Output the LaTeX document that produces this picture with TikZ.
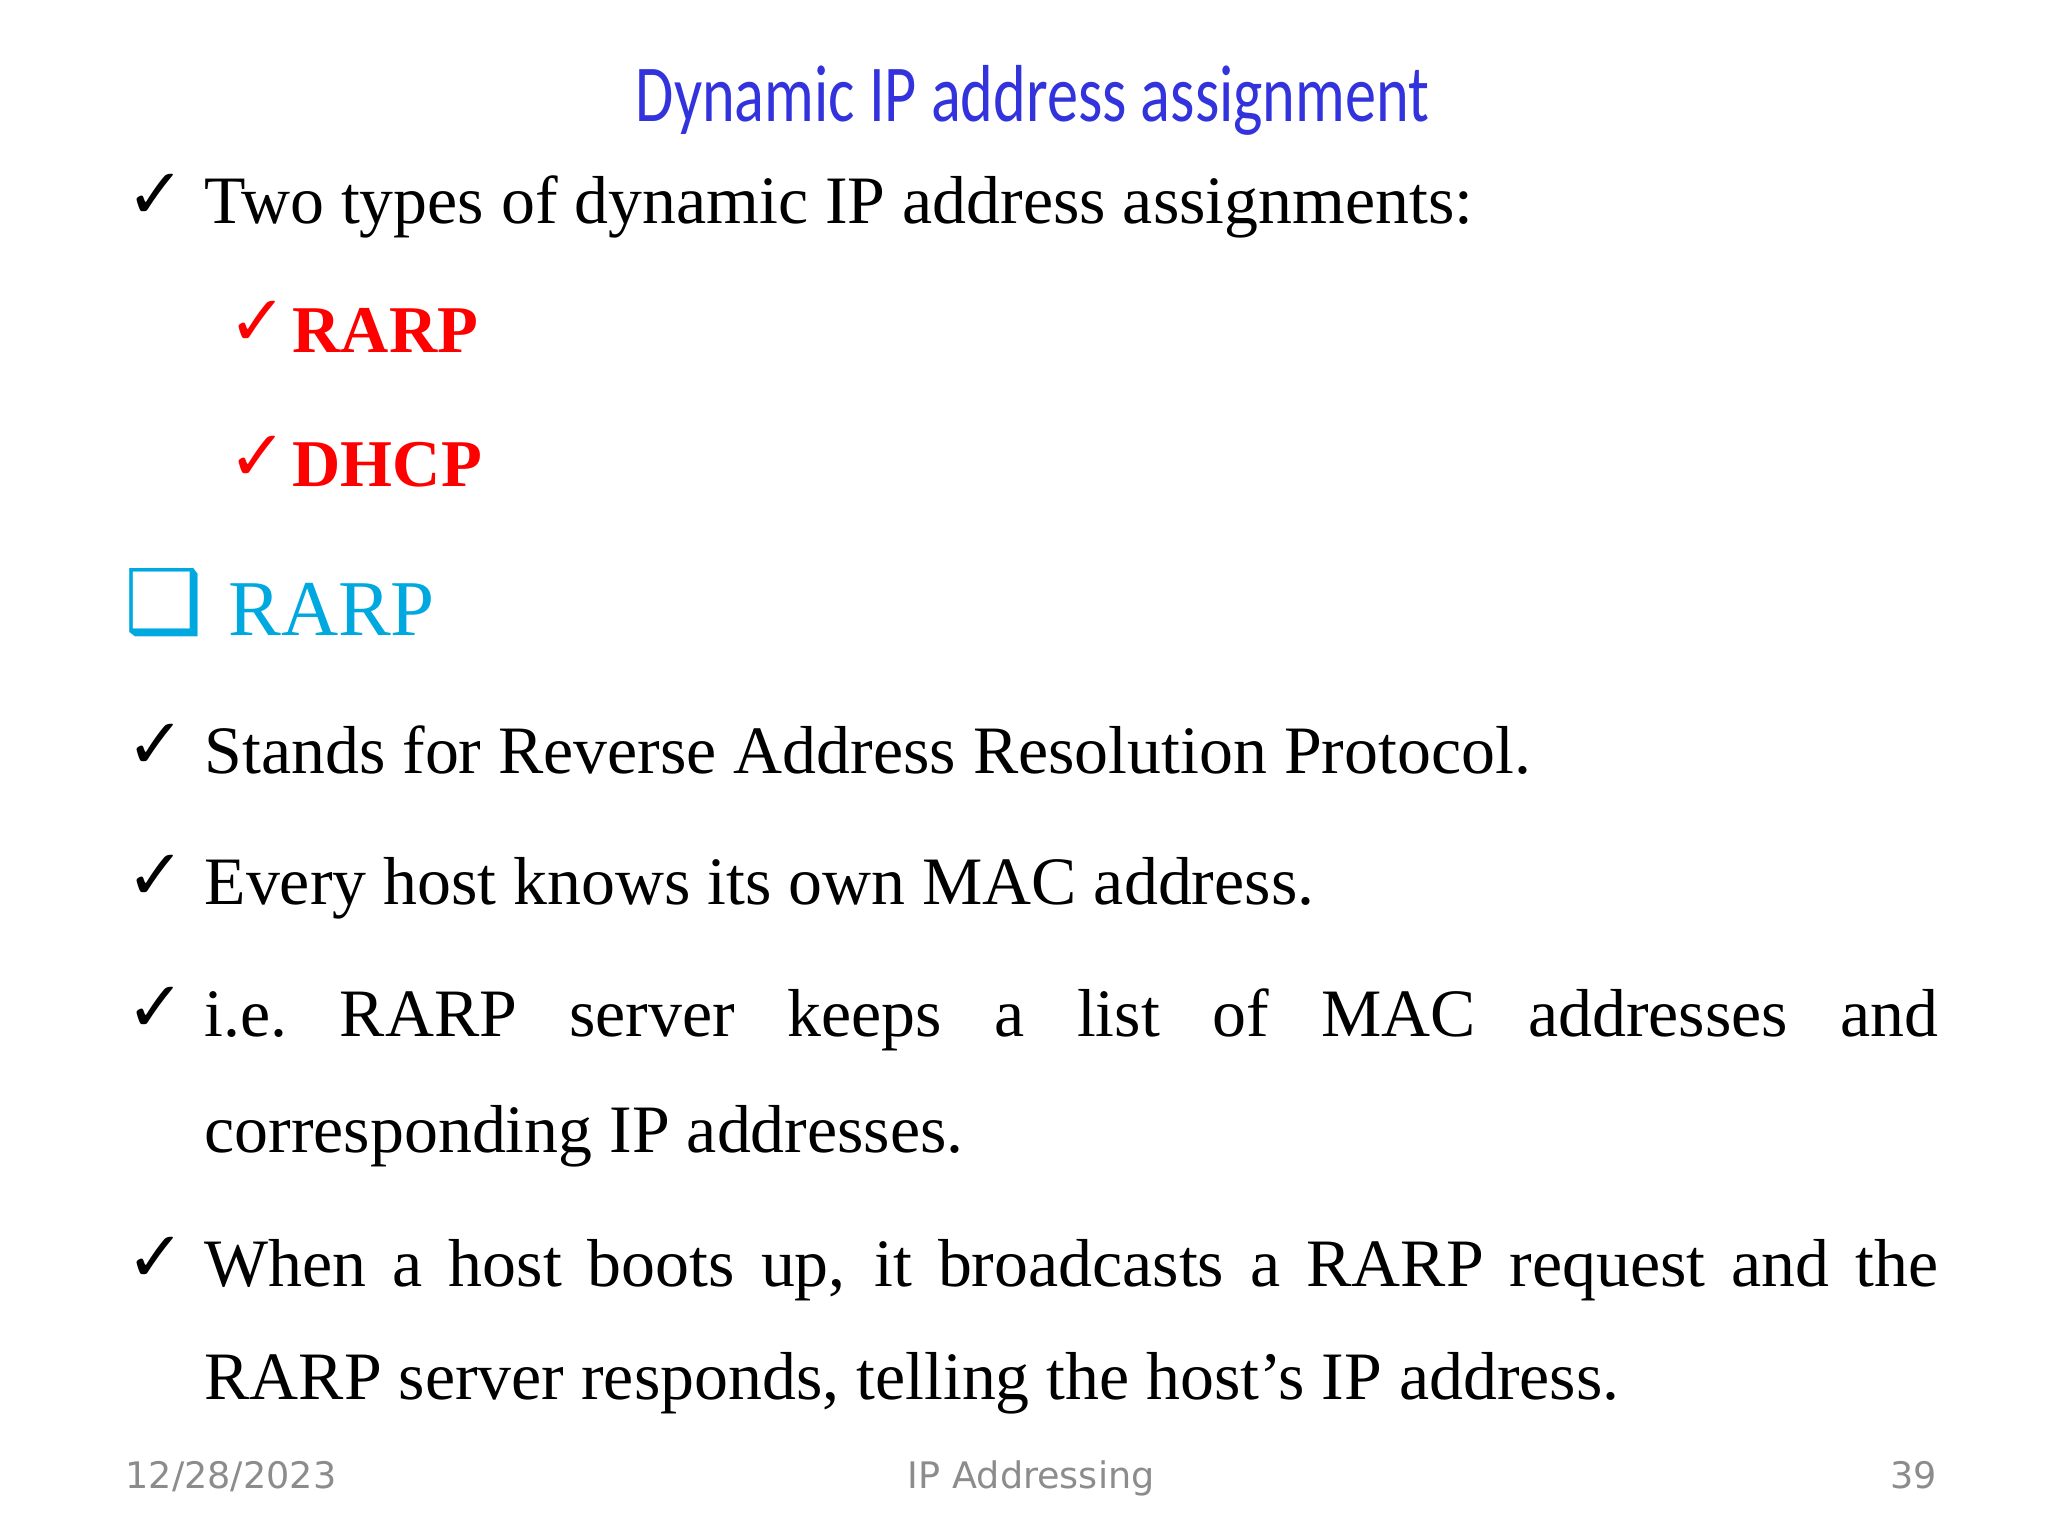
\documentclass[tikz,border=0pt]{standalone}
\usepackage{fontspec}
\setmainfont{Liberation Serif}
\newfontfamily\titlefont{Carlito}
\newfontfamily\symfont{DejaVu Sans}
\newfontfamily\footfont{DejaVu Sans}
\definecolor{titleblue}{HTML}{3333DD}
\definecolor{redtxt}{HTML}{FF0000}
\definecolor{cyantxt}{HTML}{00A8E0}
\definecolor{footgray}{HTML}{8C8C8C}
\tikzset{
  body/.style={anchor=base west,inner sep=0pt,font=\fontsize{19.3}{23}\selectfont},
  chk/.style={anchor=base west,inner sep=0pt,font=\symfont\bfseries\fontsize{20}{24}\selectfont},
  redchk/.style={chk,text=redtxt},
  redtext/.style={anchor=base west,inner sep=0pt,text=redtxt,font=\fontsize{19}{23}\selectfont\bfseries},
  foot/.style={inner sep=0pt,anchor=base,text=footgray,font=\footfont\fontsize{10.4}{13}\selectfont}
}
\newcommand{\ck}{\symbol{"2713}}
\begin{document}
\begin{tikzpicture}[x=0.013154cm,y=-0.013154cm]
\useasboundingbox (0,0) rectangle (1557,1170);
\node[anchor=base,inner sep=0pt,text=titleblue,font=\titlefont\fontsize{23}{27}\selectfont] (title) at (785,92) {\scalebox{0.77}[1]{Dynamic IP address assignment}};
\node[chk] (c1) at (96,166) {\ck};
\node[body] (t1) at (155,170) {Two types of dynamic IP address assignments:};
\node[redchk] (c2) at (173,263) {\ck};
\node[redtext] (t2) at (222,268) {RARP};
\node[redchk] (c3) at (173,365) {\ck};
\node[redtext] (t3) at (222,370) {DHCP};
\node[anchor=base west,inner sep=0pt,text=cyantxt,font=\symfont\bfseries\fontsize{25}{28}\selectfont] (box) at (94,481) {\symbol{"2751}};
\node[anchor=base west,inner sep=0pt,text=cyantxt,font=\fontsize{22.5}{27}\selectfont] (h) at (173,483) {RARP};
\node[chk] (c4) at (96,584) {\ck};
\node[body] (t4) at (155,588) {Stands for Reverse Address Resolution Protocol.};
\node[chk] (c5) at (96,684) {\ck};
\node[body] (t5) at (155,688) {Every host knows its own MAC address.};
\node[chk] (c6) at (96,784) {\ck};
\node[body] (t6) at (155,788) {\makebox[17.34cm][s]{i.e.\ RARP server keeps a list of MAC addresses and}};
\node[body] (t7) at (155,876) {corresponding IP addresses.};
\node[chk] (c8) at (96,974) {\ck};
\node[body] (t8) at (155,978) {\makebox[17.34cm][s]{When a host boots up, it broadcasts a RARP request and the}};
\node[body] (t9) at (155,1064) {RARP server responds, telling the host’s IP address.};
\node[foot,anchor=base west] (d) at (95,1132) {12/28/2023};
\node[foot] (f) at (784,1132) {IP Addressing};
\node[foot,anchor=base east] (p) at (1473,1132) {39};
\end{tikzpicture}
\end{document}
